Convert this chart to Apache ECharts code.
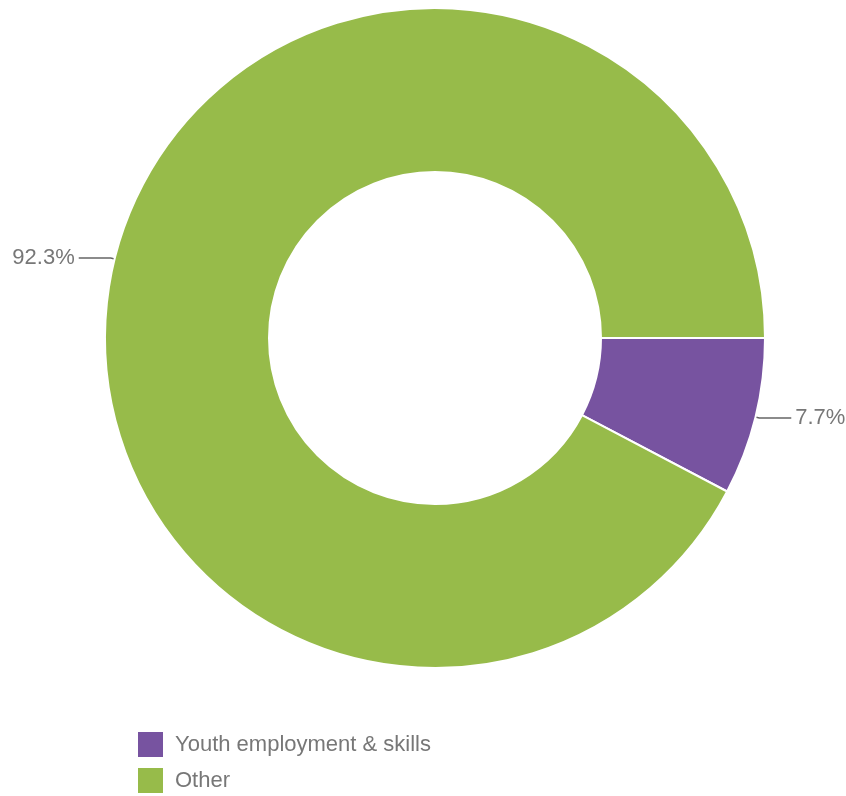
<!DOCTYPE html>
<html>
<head>
<meta charset="utf-8">
<script src="https://cdn.jsdelivr.net/npm/echarts@6/dist/echarts.min.js"></script>
<style>
  html, body { margin: 0; padding: 0; background: #fff; }
  #chart { width: 846px; height: 796px; }
</style>
</head>
<body>
<div id="chart"></div>
<script>
// Share of funding by theme
const categories = ['Youth employment & skills', 'Other'];
const shares = [7.7, 92.3];
const colors = ['#7753a0', '#97bb4a'];

// one legend block per entry, stacked as a column
const legendRows = [732, 768];
const legendBase = {
  left: 138,
  padding: 0,
  itemWidth: 25,
  itemHeight: 25,
  icon: 'rect',
  itemStyle: { borderWidth: 0 },
  textStyle: {
    fontFamily: 'Liberation Sans, Arial, sans-serif',
    fontSize: 22,
    color: '#777',
    padding: [0, 0, 0, 7]
  }
};

const chart = echarts.init(document.getElementById('chart'));
chart.setOption({
  animation: false,
  color: colors,
  legend: categories.map((name, i) => Object.assign({}, legendBase, { top: legendRows[i], data: [name] })),
  series: [{
    type: 'pie',
    center: [435, 338],
    radius: [166, 330],
    startAngle: 0,
    clockwise: true,
    itemStyle: { borderColor: '#fff', borderWidth: 2 },
    label: {
      formatter: p => p.value.toFixed(1) + '%',
      fontFamily: 'Liberation Sans, Arial, sans-serif',
      fontSize: 22,
      color: '#777',
      overflow: 'none',
      distanceToLabelLine: 4
    },
    labelLine: {
      length: 4,
      length2: 32,
      lineStyle: { color: '#666', width: 1.5 }
    },
    emphasis: { disabled: true },
    data: categories.map((name, i) => ({ name, value: shares[i] }))
  }]
});
</script>
</body>
</html>
